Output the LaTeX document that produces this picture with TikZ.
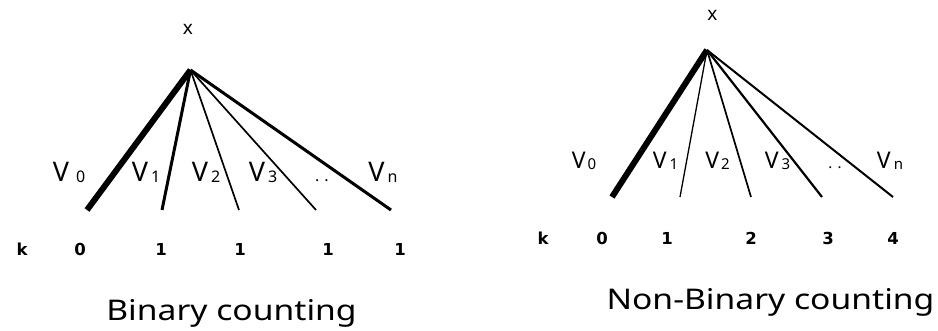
\documentclass[tikz,border=0pt]{standalone}
\usepackage{fontspec}
\setmainfont{Noto Sans}
\newfontfamily\kfont{DejaVu Sans}
\begin{document}
\begin{tikzpicture}[x=1pt,y=-1pt,
  lbl/.style={anchor=base,inner sep=0pt,font=\fontsize{27}{27}\selectfont},
  rlbl/.style={anchor=base,inner sep=0pt,font=\fontsize{23}{23}\selectfont},
  krow/.style={anchor=base,inner sep=0pt,font=\kfont\fontsize{16.5}{16.5}\selectfont\bfseries},
  xlbl/.style={anchor=base,inner sep=0pt,font=\fontsize{19}{19}\selectfont},
  title/.style={anchor=base,inner sep=0pt,font=\fontsize{28.5}{28.5}\selectfont},
  edge/.style={line cap=butt}]
\useasboundingbox (0,0) rectangle (938,331);
\newcommand{\sub}[2]{\raisebox{-1pt}{\fontsize{#1}{#1}\selectfont #2}}
% ---------- left: Binary counting ----------
\coordinate (A) at (190.5,70);
\coordinate (L0) at (87,210);
\coordinate (L1) at (162,210);
\coordinate (L2) at (239,210);
\coordinate (L3) at (316,210);
\coordinate (L4) at (391,210);
\node[xlbl] (xa) at (188,35) {x};
\draw[edge,line width=6pt] (A) -- (L0);
\draw[edge,line width=3pt] (A) -- (L1);
\draw[edge,line width=1.7pt] (A) -- (L2);
\draw[edge,line width=1.7pt] (A) -- (L3);
\draw[edge,line width=3pt] (A) -- (L4);
\node[lbl] (a0) at (69,182) {V\hspace{7pt}\sub{16}{0}};
\node[lbl] (a1) at (146,182) {V\hspace{3pt}\sub{16}{1}};
\node[lbl] (a2) at (206,182) {V\hspace{3pt}\sub{16}{2}};
\node[lbl] (a3) at (263,182) {V\hspace{3pt}\sub{16}{3}};
\node[lbl] (ad) at (322,182) {\fontsize{16}{16}\selectfont.\hspace{5pt}.};
\node[lbl] (an) at (383,182) {V\hspace{3pt}\sub{16}{n}};
\node[krow] (ka) at (22,256) {k};
\node[krow] (ka0) at (80,256) {0};
\node[krow] (ka1) at (161,256) {1};
\node[krow] (ka2) at (240,256) {1};
\node[krow] (ka3) at (328,256) {1};
\node[krow] (ka4) at (400,256) {1};
\node[title] (ta) at (231.5,320) {\scalebox{1.18}[1]{Binary counting}};
% ---------- right: Non-Binary counting ----------
\coordinate (B) at (707,50);
\coordinate (R0) at (612,197);
\coordinate (R1) at (680,197);
\coordinate (R2) at (751,197);
\coordinate (R3) at (822,197);
\coordinate (R4) at (893,197);
\node[xlbl] (xb) at (712.5,21) {x};
\draw[edge,line width=6pt] (B) -- (R0);
\draw[edge,line width=1.3pt] (B) -- (R1);
\draw[edge,line width=1.7pt] (B) -- (R2);
\draw[edge,line width=2.2pt] (B) -- (R3);
\draw[edge,line width=2pt] (B) -- (R4);
\node[rlbl] (b0) at (584,169) {V\hspace{2pt}\sub{15}{0}};
\node[rlbl] (b1) at (665.5,169) {V\hspace{3pt}\sub{15}{1}};
\node[rlbl] (b2) at (717.5,169) {V\hspace{2pt}\sub{15}{2}};
\node[rlbl] (b3) at (777.5,169) {V\hspace{3pt}\sub{15}{3}};
\node[rlbl] (bd) at (835,169) {\fontsize{15}{15}\selectfont.\hspace{5pt}.};
\node[rlbl] (bn) at (890,169) {V\hspace{3pt}\sub{15}{n}};
\node[krow] (kb) at (543,245) {k};
\node[krow] (kb0) at (602,245) {0};
\node[krow] (kb1) at (667,245) {1};
\node[krow] (kb2) at (751,245) {2};
\node[krow] (kb3) at (828,245) {3};
\node[krow] (kb4) at (893,245) {4};
\node[title] (tb) at (770.5,310) {\scalebox{1.18}[1]{Non-Binary counting}};
\end{tikzpicture}
\end{document}
